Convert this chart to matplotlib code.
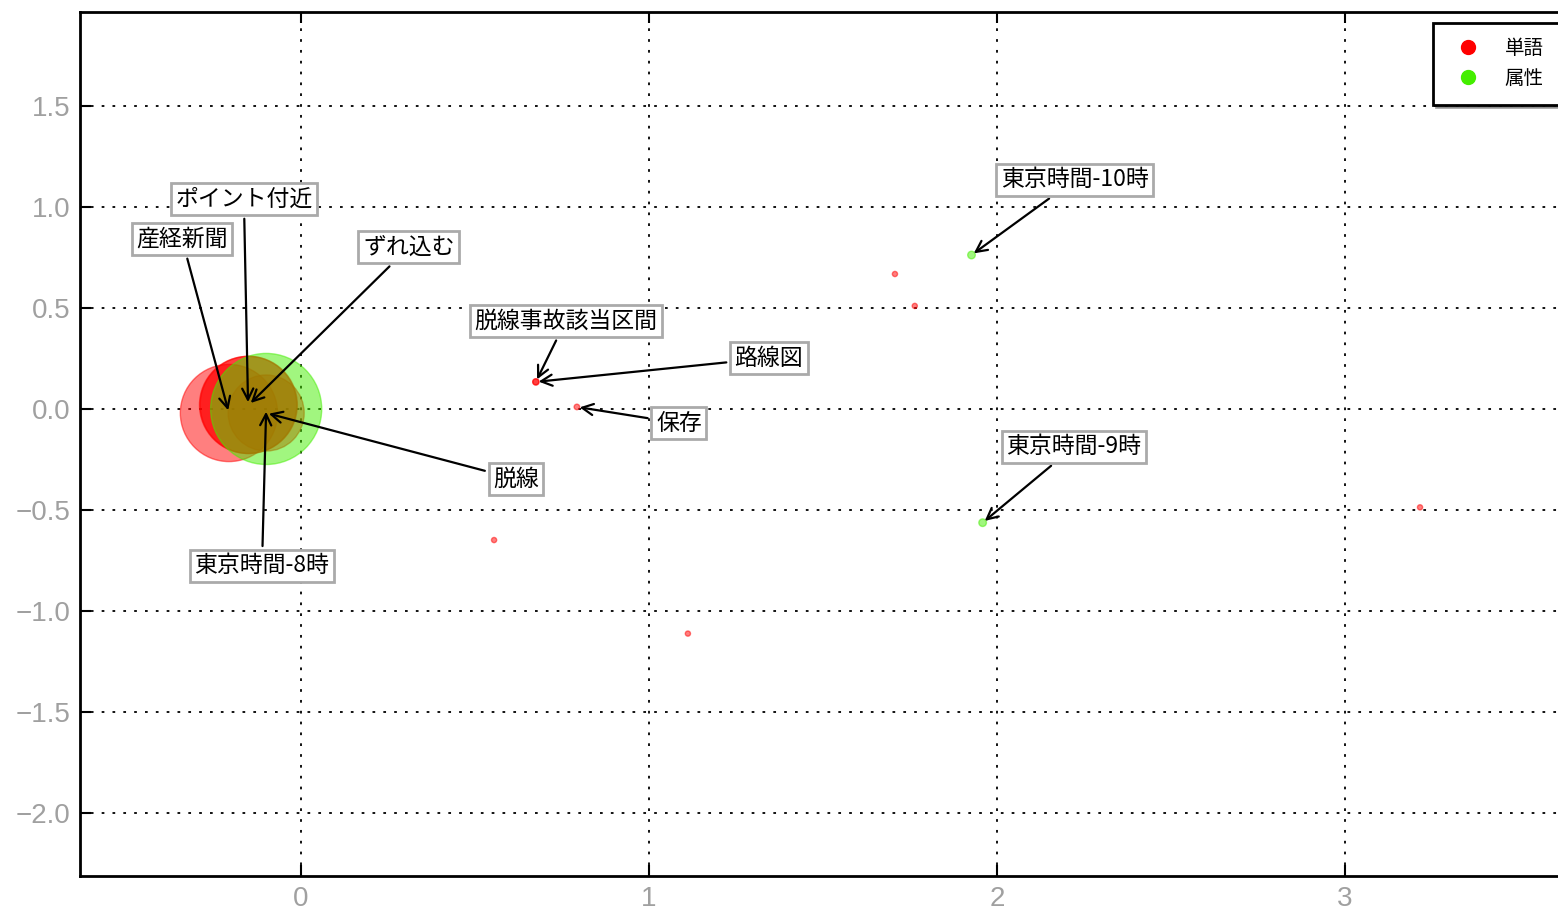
import matplotlib
matplotlib.use('Agg')
import matplotlib.pyplot as plt
from matplotlib.lines import Line2D

plt.rcParams['font.family'] = ['Noto Sans CJK JP', 'DejaVu Sans']

# words (red)
word_labels = ['産経新聞', 'ポイント付近', 'ずれ込む', '脱線', '脱線事故該当区間', '路線図', '保存',
               '', '', '', '', '']
word_x = [-0.207, -0.152, -0.150, -0.10, 0.675, 0.675, 0.793, 0.555, 1.112, 1.707, 1.764, 3.216]
word_y = [-0.02, 0.02, 0.02, -0.02, 0.134, 0.134, 0.01, -0.649, -1.112, 0.668, 0.51, -0.487]
word_size = [4900, 4900, 4900, 3000, 20, 20, 16, 14, 14, 14, 14, 14]

# attributes (green)
attr_labels = ['東京時間-8時', '東京時間-10時', '東京時間-9時']
attr_x = [-0.10, 1.927, 1.959]
attr_y = [0.0, 0.762, -0.563]
attr_size = [6400, 30, 30]

# where each label box sits
label_pos = {
    '産経新聞': (-0.342, 0.842),
    'ポイント付近': (-0.164, 1.04),
    'ずれ込む': (0.31, 0.80),
    '脱線': (0.618, -0.347),
    '脱線事故該当区間': (0.761, 0.436),
    '路線図': (1.345, 0.252),
    '保存': (1.086, -0.07),
    '東京時間-8時': (-0.112, -0.777),
    '東京時間-10時': (2.224, 1.134),
    '東京時間-9時': (2.221, -0.188),
}

fig = plt.figure(figsize=(15.58, 9.11), dpi=100)
ax = fig.add_axes([80 / 1558, 35 / 911, 1490 / 1558, 864 / 911])

red = '#ff0000'
green = '#44ee00'
ax.scatter(word_x, word_y, s=word_size, c=red, alpha=0.5, zorder=3)
ax.scatter(attr_x, attr_y, s=attr_size, c=green, alpha=0.5, zorder=3)

box = dict(boxstyle='square,pad=0.2', fc='white', ec='#aaaaaa', lw=2)
arrow = dict(arrowstyle='->', color='k', lw=1.6, mutation_scale=20)
for lab, x, y in zip(word_labels + attr_labels, word_x + attr_x, word_y + attr_y):
    if not lab:
        continue
    ax.annotate(lab, xy=(x, y), xytext=label_pos[lab], textcoords='data',
                ha='center', va='center', fontsize=16.5, bbox=box,
                arrowprops=arrow, zorder=5)

ax.set_xlim(-0.635, 3.647)
ax.set_ylim(-2.312, 1.965)
ax.set_xticks([0, 1, 2, 3])
ax.set_yticks([-2.0, -1.5, -1.0, -0.5, 0.0, 0.5, 1.0, 1.5])
ax.set_xticklabels(['0', '1', '2', '3'], family='Liberation Sans')
ax.set_yticklabels(['\u22122.0', '\u22121.5', '\u22121.0', '\u22120.5', '0.0', '0.5', '1.0', '1.5'],
                   family='Liberation Sans')
ax.tick_params(direction='in', length=8, width=1.5, labelsize=20, labelcolor='#a0a0a0',
               top=True, right=True, pad=7)
ax.grid(True, color='k', linestyle=(0, (1.5, 4.5)), lw=1.3)
ax.set_axisbelow(True)
for sp in ax.spines.values():
    sp.set_linewidth(2)

handles = [Line2D([], [], marker='o', ls='', color=red, markersize=10),
           Line2D([], [], marker='o', ls='', color=green, markersize=10)]
leg = ax.legend(handles, ['単語', '属性'], loc='upper right', fontsize=14, shadow=True,
                fancybox=False, borderpad=0.8, handletextpad=0.9, borderaxespad=0.55,
                labelspacing=0.45)
leg.get_frame().set_edgecolor('k')
leg.get_frame().set_linewidth(2)

fig.savefig('out.png', dpi=100)
